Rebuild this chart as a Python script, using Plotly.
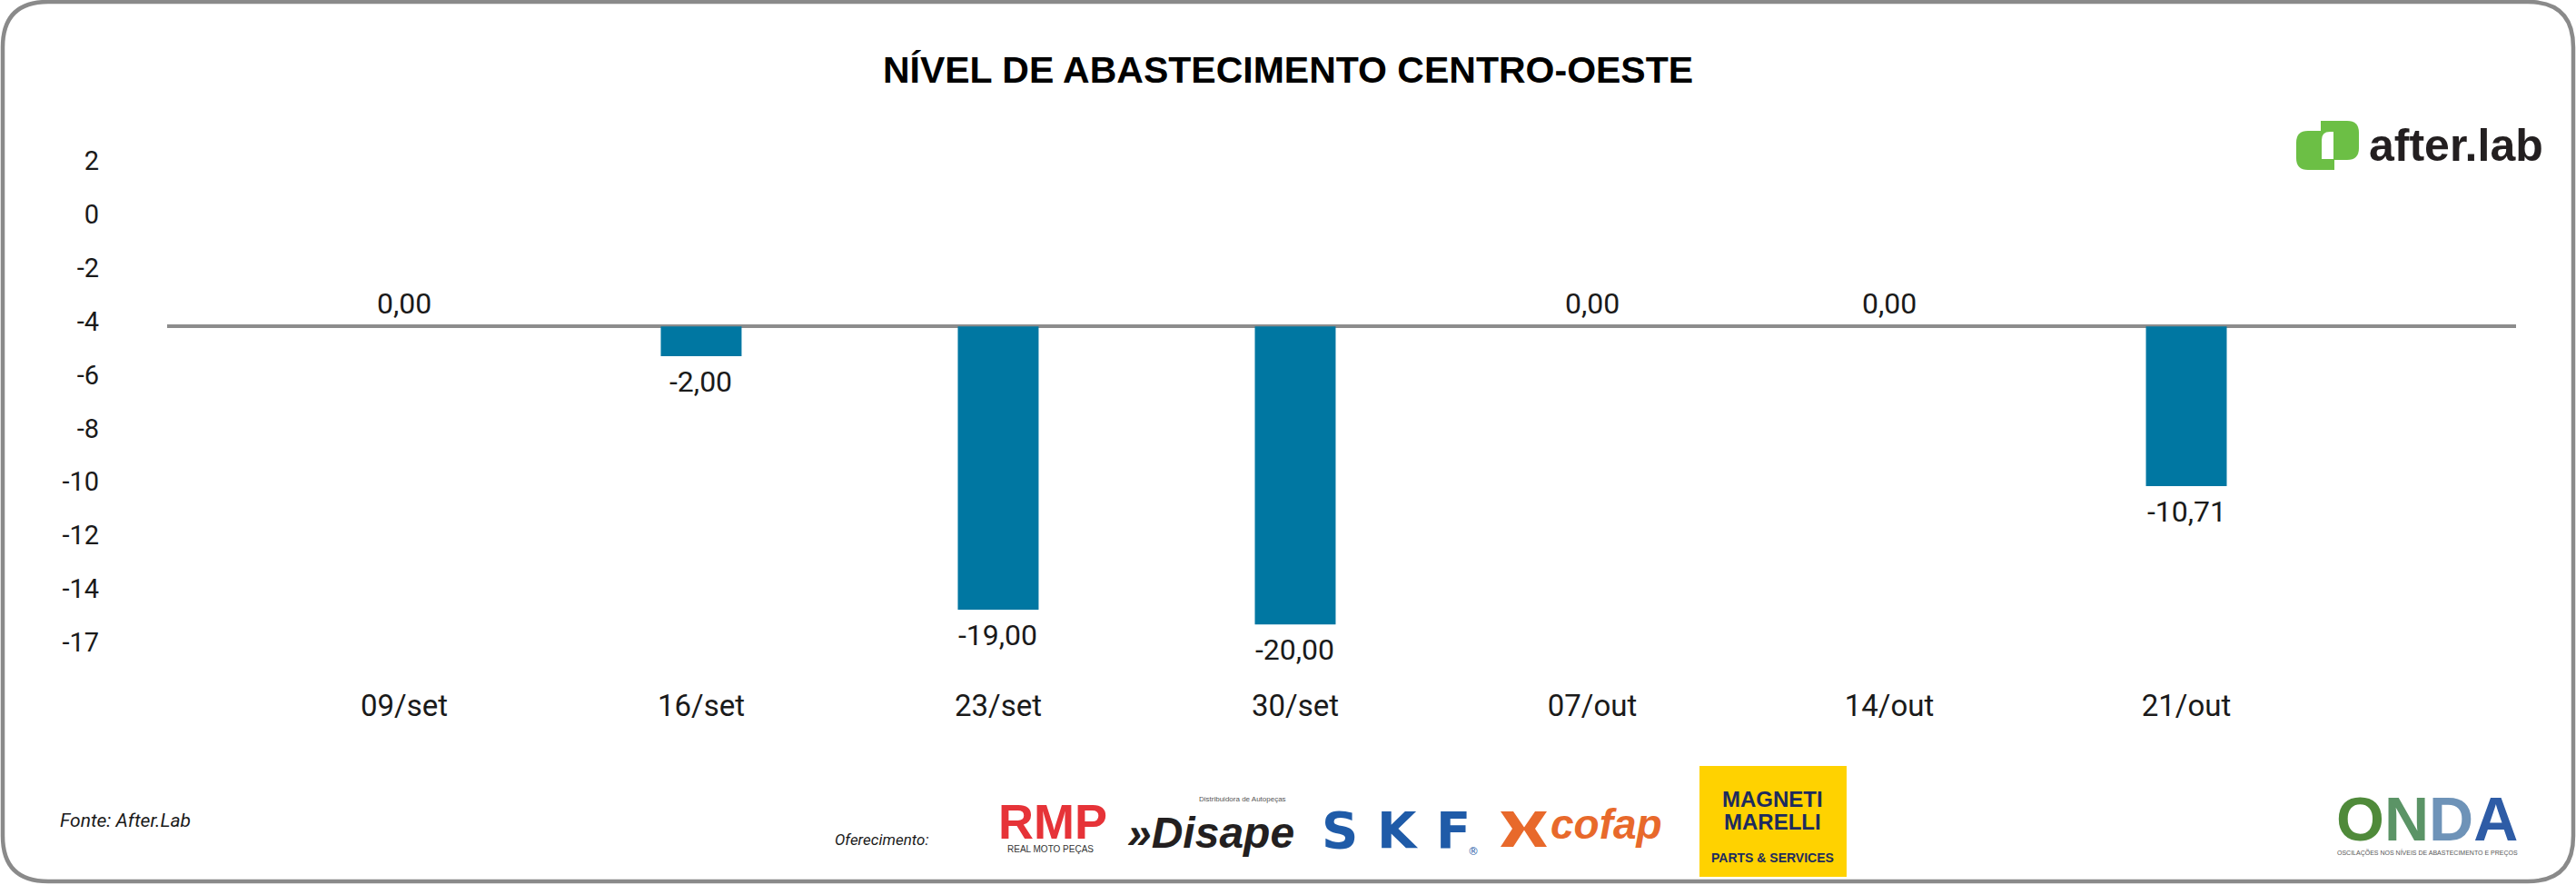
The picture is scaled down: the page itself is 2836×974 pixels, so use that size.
import plotly.graph_objects as go

# ---------------- data ----------------
dates = ["09/set", "16/set", "23/set", "30/set", "07/out", "14/out", "21/out"]
values = [0.00, -2.00, -19.00, -20.00, 0.00, 0.00, -10.71]
y_tick_labels = ["-17", "-14", "-12", "-10", "-8", "-6", "-4", "-2", "0", "2"]

title_text = "NÍVEL DE ABASTECIMENTO CENTRO-OESTE"
source_text = "Fonte: After.Lab"
offer_text = "Oferecimento:"

# ---------------- geometry ----------------
W, H = 2836, 974
L, R, T, B = 184, 66, 150, 234
PW = W - L - R
PH = H - T - B


def px(x):
    return (x - L) / PW


def py(y):
    return (H - B - y) / PH


def rrect(x0, y0, x1, y1, r_tl=0, r_tr=0, r_br=0, r_bl=0):
    """rounded rectangle path in paper coords from pixel coords"""
    def P(x, y):
        return f"{px(x):.6f},{py(y):.6f}"
    d = f"M {P(x0 + r_tl, y0)} L {P(x1 - r_tr, y0)} "
    d += f"Q {P(x1, y0)} {P(x1, y0 + r_tr)} " if r_tr else ""
    d += f"L {P(x1, y1 - r_br)} "
    d += f"Q {P(x1, y1)} {P(x1 - r_br, y1)} " if r_br else ""
    d += f"L {P(x0 + r_bl, y1)} "
    d += f"Q {P(x0, y1)} {P(x0, y1 - r_bl)} " if r_bl else ""
    d += f"L {P(x0, y0 + r_tl)} "
    d += f"Q {P(x0, y0)} {P(x0 + r_tl, y0)} " if r_tl else ""
    return d + "Z"


def poly(points):
    return "M " + " L ".join(f"{px(x):.6f},{py(y):.6f}" for x, y in points) + " Z"


BAR_COLOR = "#0077A2"
FONT = "Roboto, Arial, sans-serif"
ARIAL = "Liberation Sans, Arial, sans-serif"
TXT = "#1a1a1a"

fig = go.Figure()
fig.add_trace(go.Bar(
    x=dates, y=values, width=0.272,
    marker=dict(color=BAR_COLOR, line=dict(width=0)),
    showlegend=False, hovertemplate="%{x}: %{y:.2f}<extra></extra>",
))
# invisible trace that carries the left tick-label axis
fig.add_trace(go.Scatter(
    x=[dates[0]] * len(y_tick_labels), y=y_tick_labels, yaxis="y2",
    mode="markers", marker=dict(opacity=0, size=1),
    hoverinfo="skip", showlegend=False,
))

annotations = []
for d, v in zip(dates, values):
    label = f"{v:.2f}".replace(".", ",")
    annotations.append(dict(
        x=d, y=v, xref="x", yref="y", text=label, showarrow=False,
        yanchor="bottom" if v >= 0 else "top",
        yshift=4 if v >= 0 else -7,
        font=dict(family=FONT, size=32, color=TXT),
    ))


def ann(x, y, text, size, color=TXT, family=FONT, xanchor="center", yanchor="middle"):
    annotations.append(dict(
        x=px(x), y=py(y), xref="paper", yref="paper", text=text, showarrow=False,
        xanchor=xanchor, yanchor=yanchor, font=dict(family=family, size=size, color=color),
    ))


ann(64, 903, f"<i>{source_text}</i>", 21, xanchor="left")
ann(917, 924, f"<i>{offer_text}</i>", 17, xanchor="left")

# after.lab logo text
ann(2606, 160, "<b>after.lab</b>", 50, color="#231f20", family=ARIAL, xanchor="left")
# RMP
ann(1159, 904, "<b>RMP</b>", 54, color="#E63338", family=ARIAL)
ann(1156, 934, "REAL MOTO PEÇAS", 10, color="#333333", family=ARIAL)
# Disape
ann(1333, 916, "<b><i>»Disape</i></b>", 48, color="#231f20", family=ARIAL)
ann(1418, 879, "Distribuidora de Autopeças", 8, color="#555555", family=ARIAL, xanchor="right")
# SKF
for letter, cx in zip(["S", "K", "F"], [1475, 1539, 1600]):
    ann(cx, 913, f"<b>{letter}</b>", 56, color="#1f5ba8", family="DejaVu Sans, sans-serif")
ann(1622, 937, "®", 12, color="#1f5ba8", family="DejaVu Sans, sans-serif")
# cofap
ann(1705, 907, "<b><i>cofap</i></b>", 46, color="#E8692B", family=ARIAL, xanchor="left")
# Magneti Marelli
ann(1952, 879, "<b>MAGNETI</b>", 24, color="#1d2b5e", family=ARIAL)
ann(1952, 904, "<b>MARELLI</b>", 24, color="#1d2b5e", family=ARIAL)
ann(1952, 944, "<b>PARTS &amp; SERVICES</b>", 14, color="#1d2b5e", family=ARIAL)
# ONDA
onda = ("<b><span style='color:#4f8a3a'>O</span><span style='color:#5b9466'>N</span>"
        "<span style='color:#6e93b8'>D</span><span style='color:#2e5ca6'>A</span></b>")
ann(2672, 901, onda, 68, family=ARIAL)
ann(2672, 938, "OSCILAÇÕES NOS NÍVEIS DE ABASTECIMENTO E PREÇOS", 7, color="#555555", family=ARIAL)

shapes = [
    # outer rounded border
    dict(type="path", xref="paper", yref="paper",
         path=rrect(3, 2, 2833, 970, 50, 50, 50, 50),
         line=dict(color="#8a8a8a", width=4.5), fillcolor="rgba(0,0,0,0)", layer="below"),
    # after.lab icon
    dict(type="path", xref="paper", yref="paper", path=rrect(2528, 144, 2570, 187, 13, 0, 0, 13),
         fillcolor="#6cbf45", line=dict(width=0)),
    dict(type="path", xref="paper", yref="paper", path=rrect(2555, 133, 2597, 176, 0, 13, 13, 0),
         fillcolor="#6cbf45", line=dict(width=0)),
    dict(type="path", xref="paper", yref="paper", path=rrect(2556, 145, 2569, 175, 9, 0, 0, 0),
         fillcolor="#ffffff", line=dict(width=0)),
    # cofap chevrons
    dict(type="path", xref="paper", yref="paper",
         path=poly([(1652, 893), (1666, 893), (1679, 912), (1666, 932), (1652, 932), (1665, 912)]),
         fillcolor="#E8692B", line=dict(width=0)),
    dict(type="path", xref="paper", yref="paper",
         path=poly([(1703, 893), (1690, 893), (1677, 912), (1690, 932), (1703, 932), (1690, 912)]),
         fillcolor="#E8692B", line=dict(width=0)),
    # Magneti Marelli yellow box
    dict(type="rect", xref="paper", yref="paper", x0=px(1871), x1=px(2033), y0=py(965), y1=py(843),
         fillcolor="#FFD200", line=dict(width=0), layer="below"),
]

fig.update_layout(
    width=W, height=H,
    margin=dict(l=L, r=R, t=T, b=B, autoexpand=False),
    paper_bgcolor="white", plot_bgcolor="white",
    title=dict(text=f"<b>{title_text}</b>", x=0.5, xref="container", xanchor="center",
               y=1 - 77 / H, yref="container", yanchor="middle",
               font=dict(family=ARIAL, size=41, color="#000000")),
    xaxis=dict(type="category", range=[-0.798, 7.11], showgrid=False, zeroline=False,
               showline=False, ticks="", tickfont=dict(family=FONT, size=33, color=TXT),
               ticklabelstandoff=14, fixedrange=True),
    yaxis=dict(range=[-23.21, 12.76], showgrid=False, showticklabels=False, ticks="",
               zeroline=True, zerolinecolor="#8c8c8c", zerolinewidth=4, showline=False,
               fixedrange=True),
    yaxis2=dict(type="category", categoryorder="array", categoryarray=y_tick_labels,
                range=[-0.560, 9.458], overlaying="y", side="left", anchor="x",
                showgrid=False, zeroline=False, showline=False, ticks="",
                tickfont=dict(family=FONT, size=29, color=TXT),
                ticklabelstandoff=74, fixedrange=True),
    bargap=0.7,
    showlegend=False,
    annotations=annotations,
    shapes=shapes,
)

fig.write_html("out.html", config={"displayModeBar": False},
               post_script="document.body.style.margin='0';document.body.style.overflow='hidden';")
